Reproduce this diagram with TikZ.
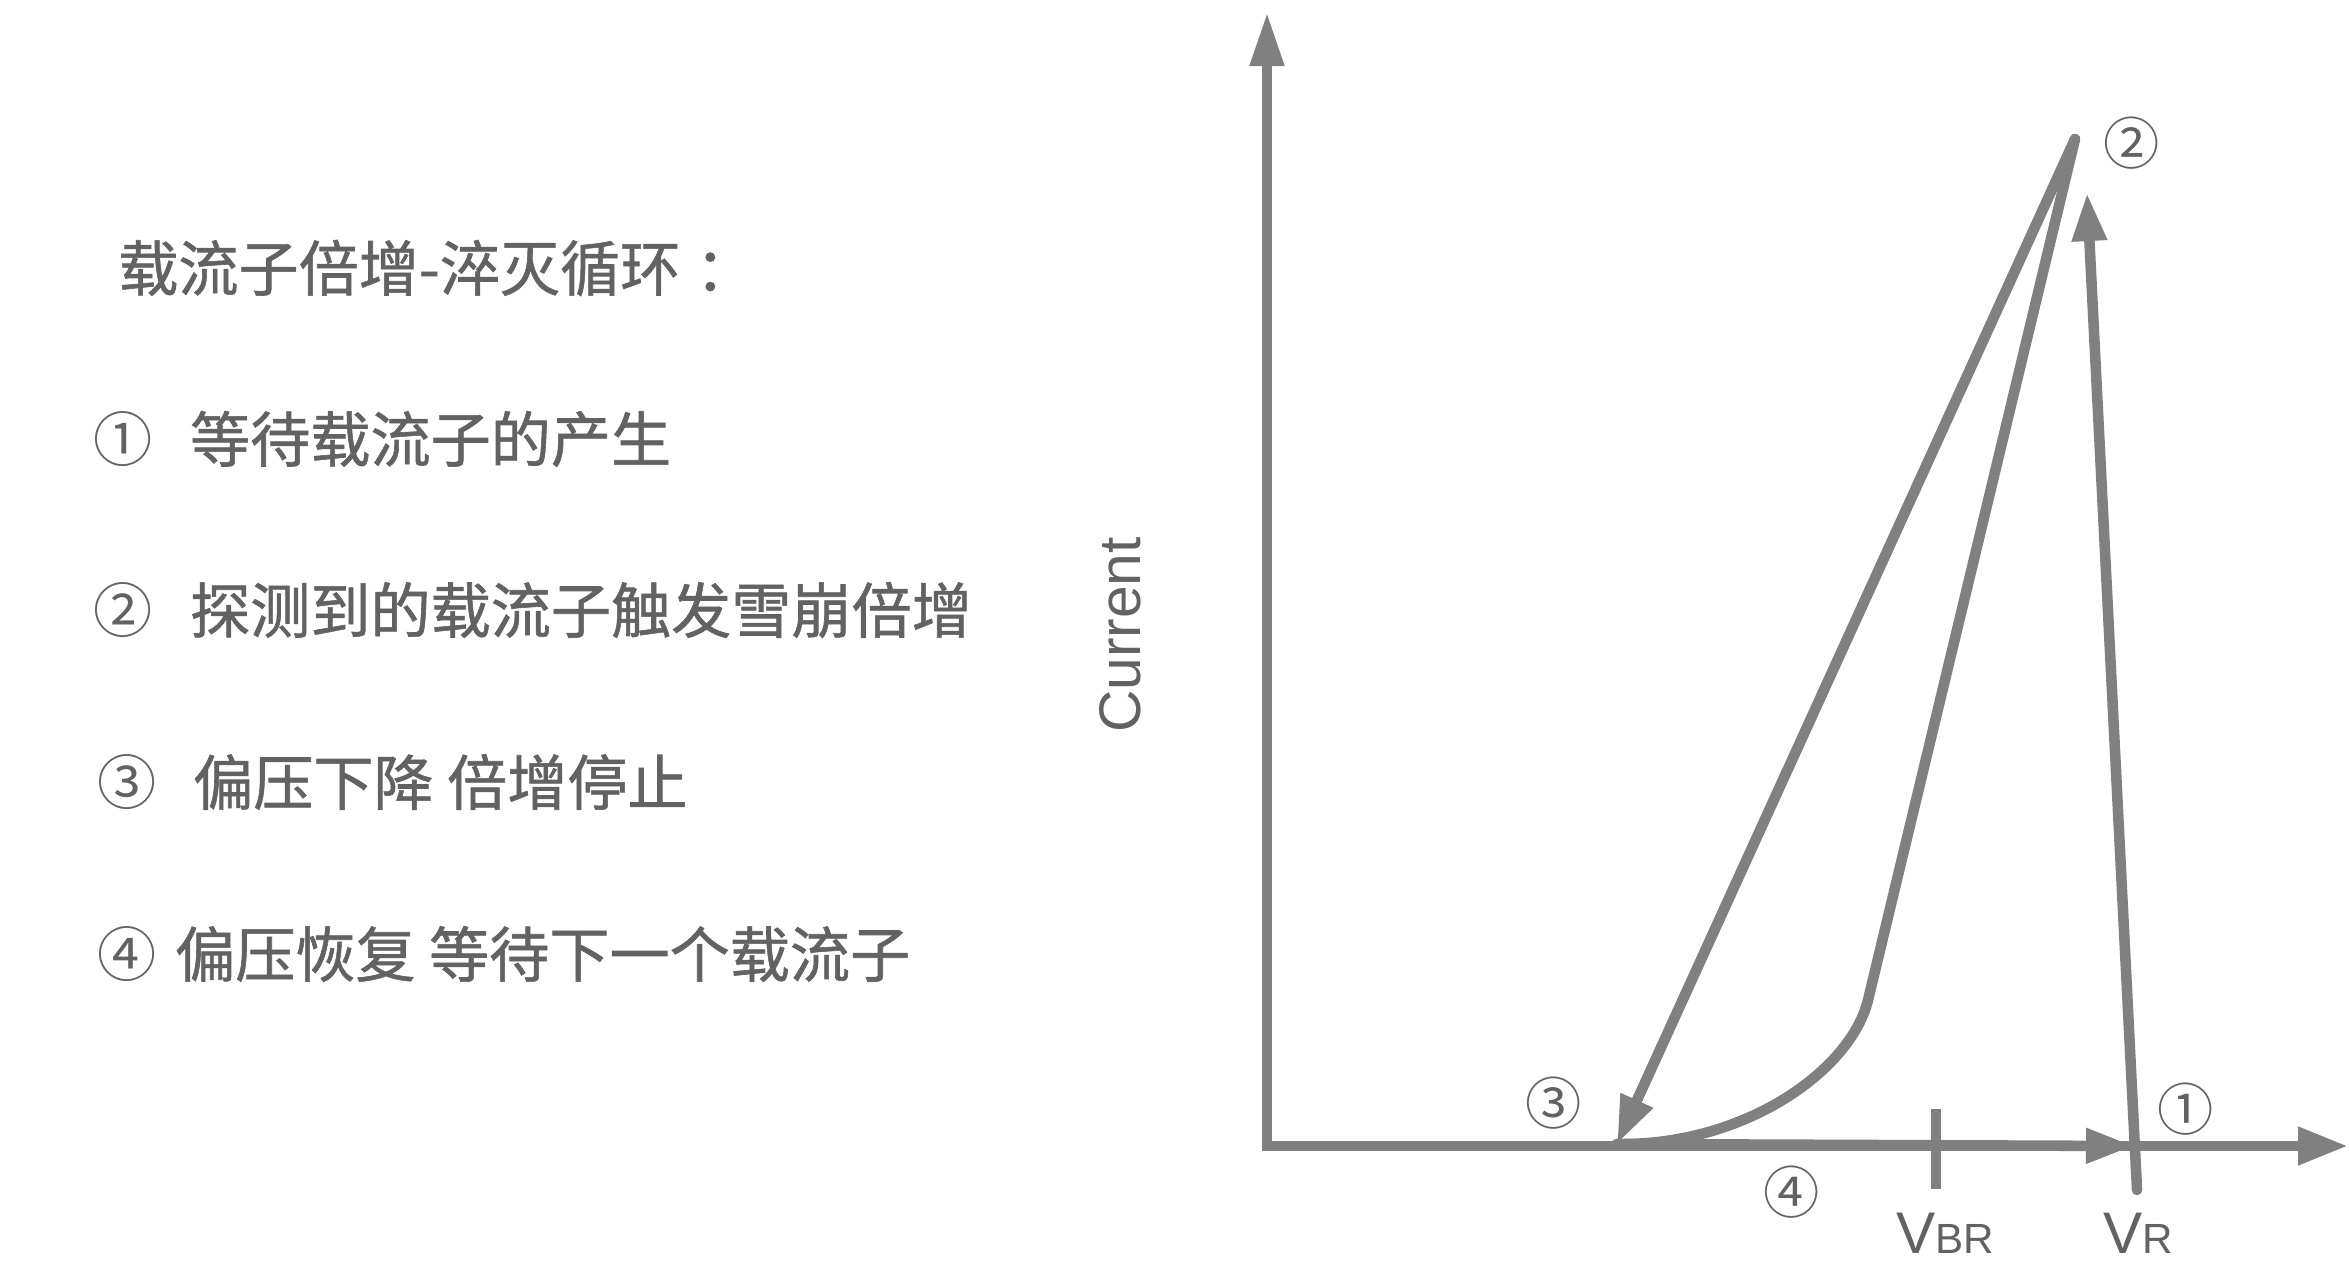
\documentclass[tikz,border=0pt]{standalone}
\usepackage{fontspec}
\setmainfont{Liberation Sans}
\newfontfamily\cjk{Noto Sans CJK SC}
\newfontfamily\cjkb[FakeBold=1]{Noto Sans CJK SC}
\usetikzlibrary{arrows.meta,positioning}
\definecolor{linegray}{RGB}{128,128,128}
\definecolor{textgray}{RGB}{98,98,98}

\begin{document}
\begin{tikzpicture}[x=0.01cm, y=-0.01cm,
line width=3pt, linegray,
axis/.style={{Triangle[length=0.54cm,width=0.32cm]}-{Triangle[length=0.5cm,width=0.36cm]}, line join=miter},
cyc/.style={-{Triangle[length=0.48cm,width=0.33cm]}, line cap=round},
tick/.style={line width=2.6pt},
lbl/.style={text=textgray, font=\cjkb\fontsize{17.1}{20}\selectfont, inner sep=0pt},
circ/.style={text=textgray, font=\cjk\fontsize{16.8}{20}\selectfont, inner sep=0pt},
num/.style={text=textgray, font=\cjk\fontsize{16}{18}\selectfont, inner sep=0pt},
volt/.style={text=textgray, font=\fontsize{16.7}{20}\selectfont, inner sep=0pt}]

\useasboundingbox (0,0) rectangle (2349,1267);

\node[lbl, anchor=west] (T) at (113,268) {载流子倍增-淬灭循环\hspace{0.25em}：};

\node[circ] (n1) at (123,439) {①};
\node[lbl, anchor=west] (t1)[right=0.27cm of n1] {等待载流子的产生};
\node[circ] (n2) at (123,610) {②};
\node[lbl, anchor=west] (t2)[right=0.27cm of n2] {探测到的载流子触发雪崩倍增};
\node[circ] (n3) at (127,782) {③};
\node[lbl, anchor=west] (t3)[right=0.26cm of n3] {偏压下降 倍增停止};
\node[circ] (n4) at (127,954) {④};
\node[lbl, anchor=west] (t4)[right=0.08cm of n4] {偏压恢复 等待下一个载流子};

\coordinate (O) at (1267,1146);
\coordinate (Ytop) at (1267,12);
\coordinate (Xend) at (2348,1146);
\coordinate (P2) at (2075,139);
\coordinate (P3) at (1617,1144);
\coordinate (K) at (1868,1000);
\coordinate (VR) at (2134,1146);
\coordinate (VRtop) at (2087,193);
\coordinate (VRbot) at (2137,1190);
\coordinate (VBRtop) at (1936,1109);
\coordinate (VBRbot) at (1936,1189);

\draw[axis] (Ytop) -- (O) -- (Xend);
\draw[tick] (VBRtop) -- (VBRbot);
\draw[line cap=round] (P3) .. controls (1745,1146) and (1851,1070) .. (K) -- (P2);
\draw[cyc] (P2) -- (P3);
\draw[cyc] (P3) -- (VR);
\draw[cyc] (VRbot) -- (VRtop);

\node[num] (L2) at (2132,143) {②};
\node[num] (L3) at (1554,1103) {③};
\node[num] (L4) at (1792,1192) {④};
\node[num] (L1) at (2186,1109) {①};

\node[volt, rotate=90] (cur) at (1120,635) {Current};
\node[volt, anchor=base] (vbr) at (1945,1253) {V{\fontsize{12}{14}\selectfont BR}};
\node[volt, anchor=base] (vr) at (2138,1253) {V{\fontsize{12}{14}\selectfont R}};

\end{tikzpicture}
\end{document}
